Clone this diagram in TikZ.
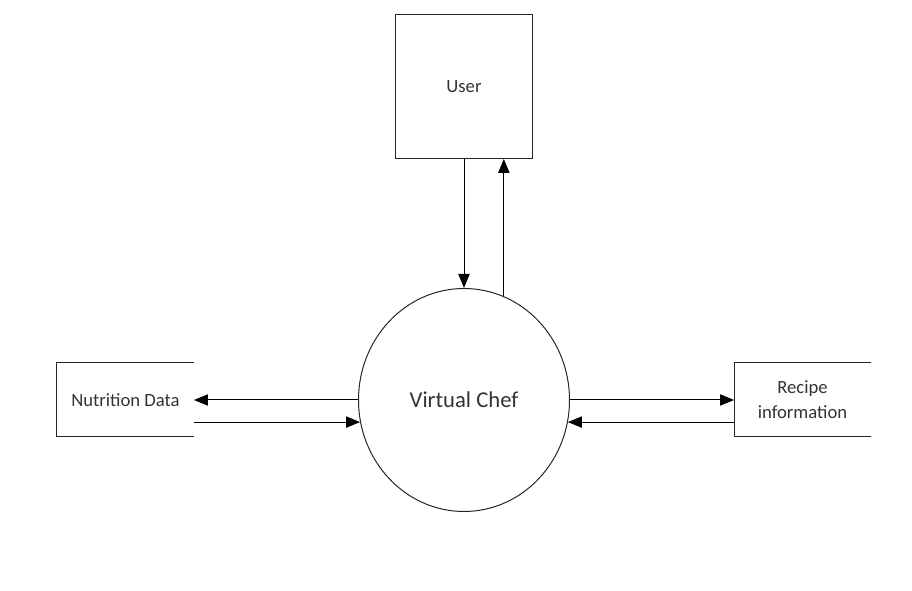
\documentclass[tikz,border=0pt]{standalone}
\usepackage{fontspec}
\setmainfont{Carlito}
\usetikzlibrary{positioning}
\usetikzlibrary{arrows.meta}
\usetikzlibrary{shapes.geometric}

\begin{document}
\begin{tikzpicture}
		[>={Triangle[length=10.5pt, width=8.5pt]}, line width=0.75pt,
		entity/.style={rectangle, draw=black!85, inner sep=0pt, minimum width=102.75pt, minimum height=108pt, text=black!80, font=\fontsize{14}{17}\selectfont},
		store/.style={rectangle, inner sep=0pt, minimum width=102pt, minimum height=54.75pt, align=center, text=black!80, font=\fontsize{14}{18.75}\selectfont},
		process/.style={ellipse, draw=black!85, inner sep=0pt, minimum width=158.25pt, minimum height=167.25pt, text=black!80, font=\fontsize{17}{20}\selectfont}]
		\useasboundingbox (-348pt,-143.25pt) rectangle (336pt,300pt);
		\node[process] (chef) at (0,0) {Virtual Chef};
		\node[entity, above=96.75pt of chef] (user) {User};
		\node[store, left=123pt of chef] (nut) {Nutrition Data};
		\node[store, right=123pt of chef] (rec) {Recipe\\information};

		\foreach \s in {nut,rec}
			\draw[black!85] (\s.north east) -- (\s.north west) -- (\s.south west) -- (\s.south east);

		\draw[->] (user.south) -- (chef.north);
		\draw[->] (chef.69.4) -- (chef.69.4 |- user.south);
		\draw[->] (chef.west) -- (nut.east);
		\draw[->] (nut.east |- chef.192.6) -- (chef.192.6);
		\draw[->] (chef.east) -- (rec.west);
		\draw[->] (rec.west |- chef.-12.6) -- (chef.-12.6);
	\end{tikzpicture}
\end{document}
